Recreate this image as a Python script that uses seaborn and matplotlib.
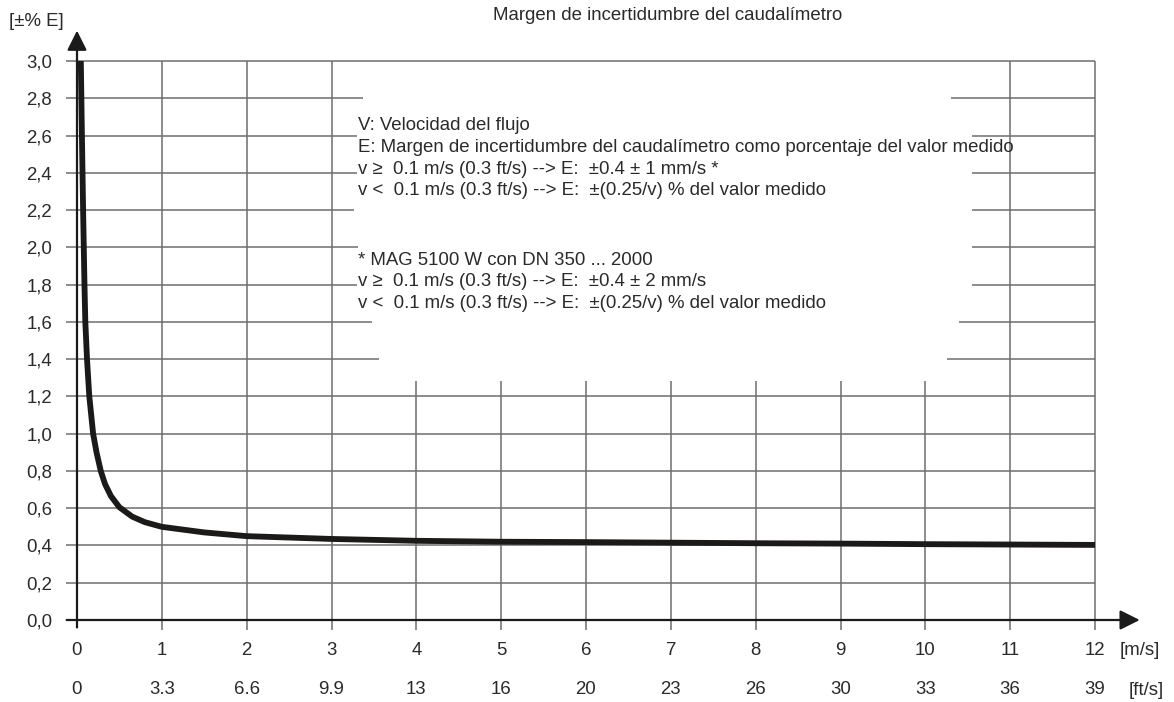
import numpy as np
import pandas as pd
import matplotlib.pyplot as plt
import seaborn as sns

# curve (velocity in m/s, error in %)
vel_ms = [0.045, 0.058, 0.072, 0.088, 0.098, 0.118, 0.145, 0.19, 0.23, 0.28, 0.33, 0.40, 0.50,
          0.65, 0.80, 1.0, 1.5, 2.0, 3.0, 4.0, 5.0, 6.0, 7.0, 8.0, 9.0, 10.0, 11.0, 12.0]
error_pct = [3.0, 2.6, 2.2, 1.8, 1.6, 1.4, 1.2, 1.0, 0.9, 0.8, 0.73, 0.665, 0.605,
             0.555, 0.525, 0.50, 0.47, 0.45, 0.435, 0.425, 0.42, 0.418, 0.415, 0.412, 0.41, 0.407, 0.405, 0.403]

x_ticks = list(range(13))
ms_labels = [str(v) for v in x_ticks]
ft_labels = ["0", "3.3", "6.6", "9.9", "13", "16", "20", "23", "26", "30", "33", "36", "39"]
y_ticks = [0.0, 0.2, 0.4, 0.6, 0.8, 1.0, 1.2, 1.4, 1.6, 1.8, 2.0, 2.2, 2.4, 2.6, 2.8, 3.0]
y_labels = ["0,0", "0,2", "0,4", "0,6", "0,8", "1,0", "1,2", "1,4", "1,6", "1,8",
            "2,0", "2,2", "2,4", "2,6", "2,8", "3,0"]

notes_1 = ["V: Velocidad del flujo",
           "E: Margen de incertidumbre del caudalímetro como porcentaje del valor medido",
           "v ≥  0.1 m/s (0.3 ft/s) --> E:  ±0.4 ± 1 mm/s *",
           "v <  0.1 m/s (0.3 ft/s) --> E:  ±(0.25/v) % del valor medido"]
notes_2 = ["* MAG 5100 W con DN 350 ... 2000",
           "v ≥  0.1 m/s (0.3 ft/s) --> E:  ±0.4 ± 2 mm/s",
           "v <  0.1 m/s (0.3 ft/s) --> E:  ±(0.25/v) % del valor medido"]

# where the grid is cut out behind the notes
box_rows = [1.4, 1.6, 1.8, 2.0, 2.2, 2.4, 2.6, 2.8]
box_left = [3.56, 3.48, 3.30, 3.31, 3.27, 3.30, 3.30, 3.37]
box_right = [10.25, 10.4, 10.55, 10.55, 10.55, 10.55, 10.55, 10.3]
box_bottom = 1.28

sns.set_style("white")
plt.rcParams['font.family'] = ['Liberation Sans', 'DejaVu Sans']
txt = '#2a2a2a'
grid_c = '#6e6e6e'
fs = 13.4

fig = plt.figure(figsize=(11.74, 7.02), dpi=100)
ax = fig.add_axes([77/1174, 82/702, 1018/1174, 559/702])
ax.set_xlim(0, 12)
ax.set_ylim(0, 3)
for s in ax.spines.values():
    s.set_visible(False)

# grid
for y in y_ticks[1:]:
    if y in box_rows:
        i = box_rows.index(y)
        ax.hlines(y, -0.13, box_left[i], color=grid_c, lw=1.1, clip_on=False)
        ax.hlines(y, box_right[i], 12, color=grid_c, lw=1.1, clip_on=False)
    else:
        ax.hlines(y, -0.13, 12, color=grid_c, lw=1.1, clip_on=False)
for x in x_ticks[1:]:
    top = box_bottom if 4 <= x <= 10 else 3.0
    ax.vlines(x, -0.055, top, color=grid_c, lw=1.1, clip_on=False)

# axes with arrows
ax.annotate('', xy=(0, 3.178), xytext=(0, -0.055), annotation_clip=False,
            arrowprops=dict(arrowstyle='-|>,head_length=1.0,head_width=0.5',
                            mutation_scale=12, color='#1a1a1a', lw=1.6))
ax.annotate('', xy=(12.56, 0), xytext=(-0.155, 0), annotation_clip=False,
            arrowprops=dict(arrowstyle='-|>,head_length=1.0,head_width=0.5',
                            mutation_scale=12, color='#1a1a1a', lw=1.6))

df = pd.DataFrame({'v': vel_ms, 'e': error_pct})
sns.lineplot(data=df, x='v', y='e', ax=ax, color='#1c1919', lw=4.2, sort=False,
             solid_capstyle='butt', solid_joinstyle='round', zorder=5)
ax.set_xlabel('')
ax.set_ylabel('')

ax.set_xticks(x_ticks, labels=ms_labels)
ax.set_yticks(y_ticks, labels=y_labels)
ax.tick_params(length=0, labelsize=fs, labelcolor=txt)
ax.tick_params(axis='x', pad=16)
ax.tick_params(axis='y', pad=18)

sec = ax.secondary_xaxis('bottom')
sec.set_xticks(x_ticks, labels=ft_labels)
sec.tick_params(length=0, pad=44, labelsize=fs, labelcolor=txt)
for s in sec.spines.values():
    s.set_visible(False)

ax.text(12.29, -0.162, '[m/s]', fontsize=fs, color=txt, va='center', ha='left')
ax.text(12.40, -0.376, '[ft/s]', fontsize=fs, color=txt, va='center', ha='left')

# notes
for k, line in enumerate(notes_1):
    ax.text(3.31, 2.652 - k * 0.1165, line, fontsize=fs, color=txt, va='center', ha='left')
for k, line in enumerate(notes_2):
    ax.text(3.31, 1.932 - k * 0.1165, line, fontsize=fs, color=txt, va='center', ha='left')

fig.text(668/1174, 1 - 16/702, 'Margen de incertidumbre del caudalímetro',
         fontsize=fs, color=txt, ha='center', va='center')
fig.text(36/1174, 1 - 22/702, '[±% E]', fontsize=fs, color=txt, ha='center', va='center')

fig.savefig('out.png', dpi=100)
